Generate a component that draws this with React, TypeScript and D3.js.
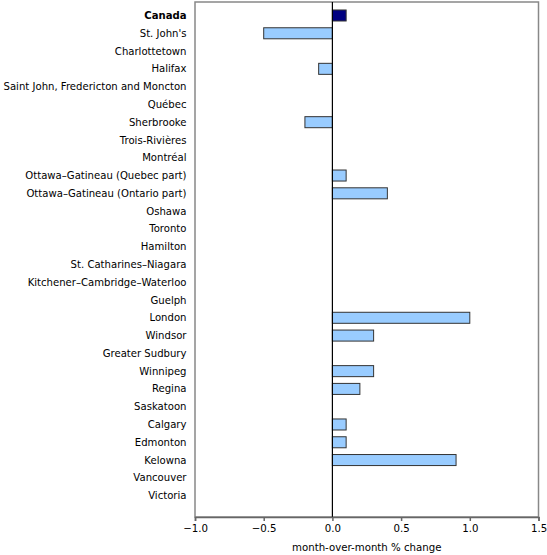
import React, { useEffect, useRef } from 'react';
import * as d3 from 'd3';

const cities = [
  'Canada', "St. John's", 'Charlottetown', 'Halifax', 'Saint John, Fredericton and Moncton',
  'Québec', 'Sherbrooke', 'Trois-Rivières', 'Montréal', 'Ottawa–Gatineau (Quebec part)',
  'Ottawa–Gatineau (Ontario part)', 'Oshawa', 'Toronto', 'Hamilton', 'St. Catharines–Niagara',
  'Kitchener–Cambridge–Waterloo', 'Guelph', 'London', 'Windsor', 'Greater Sudbury',
  'Winnipeg', 'Regina', 'Saskatoon', 'Calgary', 'Edmonton', 'Kelowna', 'Vancouver', 'Victoria',
];
const changes = [
  0.1, -0.5, 0, -0.1, 0,
  0, -0.2, 0, 0, 0.1,
  0.4, 0, 0, 0, 0,
  0, 0, 1.0, 0.3, 0,
  0.3, 0.2, 0, 0.1, 0.1, 0.9, 0, 0,
];
const xTicks = [-1.0, -0.5, 0.0, 0.5, 1.0, 1.5];
const xTitle = 'month-over-month % change';

const W = 547;
const H = 555;
const font = 'Verdana, "DejaVu Sans", sans-serif';

export default function App() {
  const svgRef = useRef<SVGSVGElement>(null);

  useEffect(() => {
    if (!svgRef.current) return;
    const svg = d3.select(svgRef.current);
    svg.selectAll('*').remove();

    const left = 195, right = 538.5, top = 2, bottom = 517;
    const rows = cities.map((c, i) => ({ city: c, value: changes[i] }));

    const x = d3.scaleLinear().domain([-1, 1.5]).range([left, right]);
    const y = d3.scaleBand<string>().domain(cities).range([6.6, 504.5]).paddingInner(0.38).paddingOuter(0.19);

    // plot frame
    svg.append('rect')
      .attr('x', left).attr('y', top)
      .attr('width', right - left).attr('height', bottom - top)
      .attr('fill', 'none').attr('stroke', '#888').attr('stroke-width', 1.5);

    // bars
    svg.append('g').selectAll('rect')
      .data(rows.filter(r => r.value !== 0))
      .join('rect')
      .attr('x', d => x(Math.min(0, d.value)))
      .attr('y', d => y(d.city)!)
      .attr('width', d => Math.abs(x(d.value) - x(0)))
      .attr('height', y.bandwidth())
      .attr('fill', d => (d.city === 'Canada' ? '#000080' : '#99ccff'))
      .attr('stroke', '#333')
      .attr('stroke-width', 1);

    // zero line
    svg.append('line')
      .attr('x1', x(0)).attr('x2', x(0))
      .attr('y1', top).attr('y2', bottom)
      .attr('stroke', '#000').attr('stroke-width', 1.2);

    // x axis
    const xAxis = svg.append('g')
      .attr('transform', `translate(0,${bottom})`)
      .call(d3.axisBottom(x).tickValues(xTicks).tickFormat(d3.format('.1f')).tickSize(4).tickPadding(4));
    xAxis.select('.domain').attr('stroke', '#666').attr('stroke-width', 1.5);
    xAxis.selectAll('.tick line').attr('stroke', '#666').attr('stroke-width', 1.5);
    xAxis.selectAll('text').attr('fill', '#000').attr('font-size', 10.2).attr('font-family', font);

    // category labels
    svg.append('g').selectAll('text')
      .data(cities)
      .join('text')
      .attr('x', 186.5)
      .attr('y', d => y(d)! + y.bandwidth() / 2)
      .attr('dy', '0.35em')
      .attr('text-anchor', 'end')
      .attr('font-size', 10.1)
      .attr('font-family', font)
      .attr('font-weight', d => (d === 'Canada' ? 'bold' : 'normal'))
      .attr('fill', '#000')
      .text(d => d);

    svg.append('text')
      .attr('x', x(0.25))
      .attr('y', 551)
      .attr('text-anchor', 'middle')
      .attr('font-size', 10.2)
      .attr('font-family', font)
      .text(xTitle);
  }, []);

  return (
    <div style={{ position: 'absolute', left: 0, top: 0 }}>
      <svg ref={svgRef} width={W} height={H} style={{ display: 'block' }} />
    </div>
  );
}
